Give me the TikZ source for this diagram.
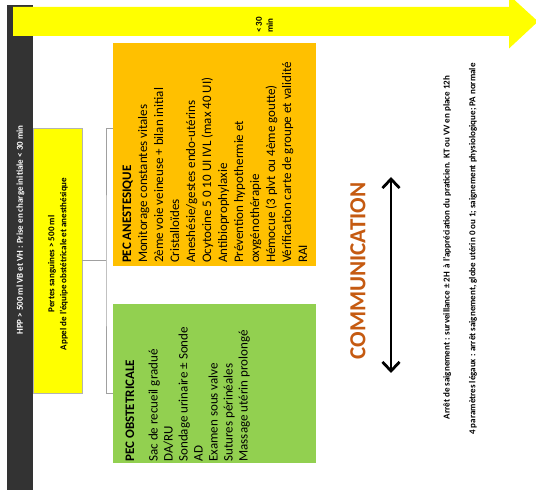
\documentclass[tikz,border=0pt]{standalone}
\usepackage{fontspec}
\setmainfont{Carlito}
\usetikzlibrary{calc,arrows.meta}
\definecolor{jaune}{HTML}{FFFF00}
\definecolor{orange}{HTML}{FFC000}
\definecolor{vert}{HTML}{92D050}
\definecolor{sombre}{HTML}{333333}
\definecolor{gris}{HTML}{A0A0A0}
\definecolor{brique}{HTML}{C55A11}
\tikzset{
	bloc/.style={inner sep=0pt, outer sep=0pt},
	texte/.style={inner sep=0pt, outer sep=0pt, rotate=90},
	lien/.style={draw=gris, line width=0.9pt},
	petit/.style={font=\bfseries\fontsize{9}{12}\selectfont},
	liste/.style={texte, anchor=north west, align=left},
}

\begin{document}
\begin{tikzpicture}[x=1pt,y=1pt]
			%%%%% START %%%%%
			\useasboundingbox (0,0) rectangle (536,-494);
			
			% bandeau
			\node[bloc, fill=sombre, minimum width=26, minimum height=485] (bandeau) at (20,-247.5) {};
			\node[texte, petit, text=white] (titre) at (20.5,-230) {HPP > 500 ml VB et VH : Prise en charge initiale < 30 min};
			
			% fleche du temps
			\fill[jaune] (13,-7) -- (509,-7) -- (509,5) -- (538,-21.5) -- (509,-48.5) -- (509,-36) -- (13,-36) -- cycle;
			\node[texte, petit, anchor=north west, align=left, font=\bfseries\fontsize{9}{11}\selectfont] (delai) at (256,-33) {< 30\\min};
			
			% appel
			\node[bloc, fill=jaune, draw=gris!80, line width=0.6pt, minimum width=49, minimum height=265] (appel) at (57.5,-260.5) {};
			\node[texte, petit, align=center] (txtappel) at (58,-264) {Pertes sanguines > 500 ml\\Appel de l'équipe obstétricale et anesthésique};
			
			% prises en charge
			\node[bloc, fill=orange, minimum width=203, minimum height=223] (pecanest) at (214.5,-154.5) {};
			\node[bloc, fill=vert, minimum width=203, minimum height=159] (pecobst) at (214.5,-383.5) {};
			
			\node[liste, font=\fontsize{13}{16}\selectfont] (txtanest) at ($(pecanest.south west)+(9.6,3)$) {\textbf{PEC ANESTESIQUE}\\
				Monitorage constantes vitales\\
				2ème voie veineuse + bilan initial\\
				Cristalloïdes\\
				Aneshésie/gestes endo-utérins\\
				Ocytocine 5 0 10 UI IVL (max 40 UI)\\
				Antibioprophylaxie\\
				Prévention hypothermie et\\
				oxygénothérapie\\
				Hémocue (3 plvt ou 4ème goutte)\\
				Vérification carte de groupe et validité\\
				RAI};
			\node[liste, font=\fontsize{13}{15}\selectfont] (txtobst) at ($(pecobst.south west)+(12.6,1.5)$) {\textbf{PEC OBSTETRICALE}\\[8.5pt]
				Sac de recueil gradué\\
				DA/RU\\
				Sondage urinaire ± Sonde\\
				AD\\
				Examen sous valve\\
				Sutures périnéales\\
				Massage utérin prolongé};
			
			% accolade
			\coordinate (fourche) at ($(appel.east)+(24,0)$);
			\draw[lien] (appel.east) -- (fourche);
			\draw[lien] (pecanest.west |- appel.north) -| (fourche) |- (pecobst.west |- appel.south);
			
			% communication
			\node[texte, text=brique, font=\bfseries\fontsize{23}{26}\selectfont] (comm) at (358,-271) {COMMUNICATION};
			\coordinate (commhaut) at (391,-177);
			\coordinate (commbas) at (391,-373);
			\draw[line width=2.8pt, {Straight Barb[length=9pt,width=17pt]}-{Straight Barb[length=9pt,width=17pt]}] (commhaut) -- (commbas);
			
			% arret
			\node[texte, petit] (arret) at (447,-247.5) {Arrêt de saignement : surveillance ± 2H\ \ à l'appréciation du praticien. KT ou VV en place 12h};
			\node[texte, petit] (parametres) at (473,-249) {4 paramètres légaux : arrêt saignement, globe utérin 0 ou 1; saignement physiologique; PA normale};
			
			%%%%% END %%%%%
\end{tikzpicture}
\end{document}
